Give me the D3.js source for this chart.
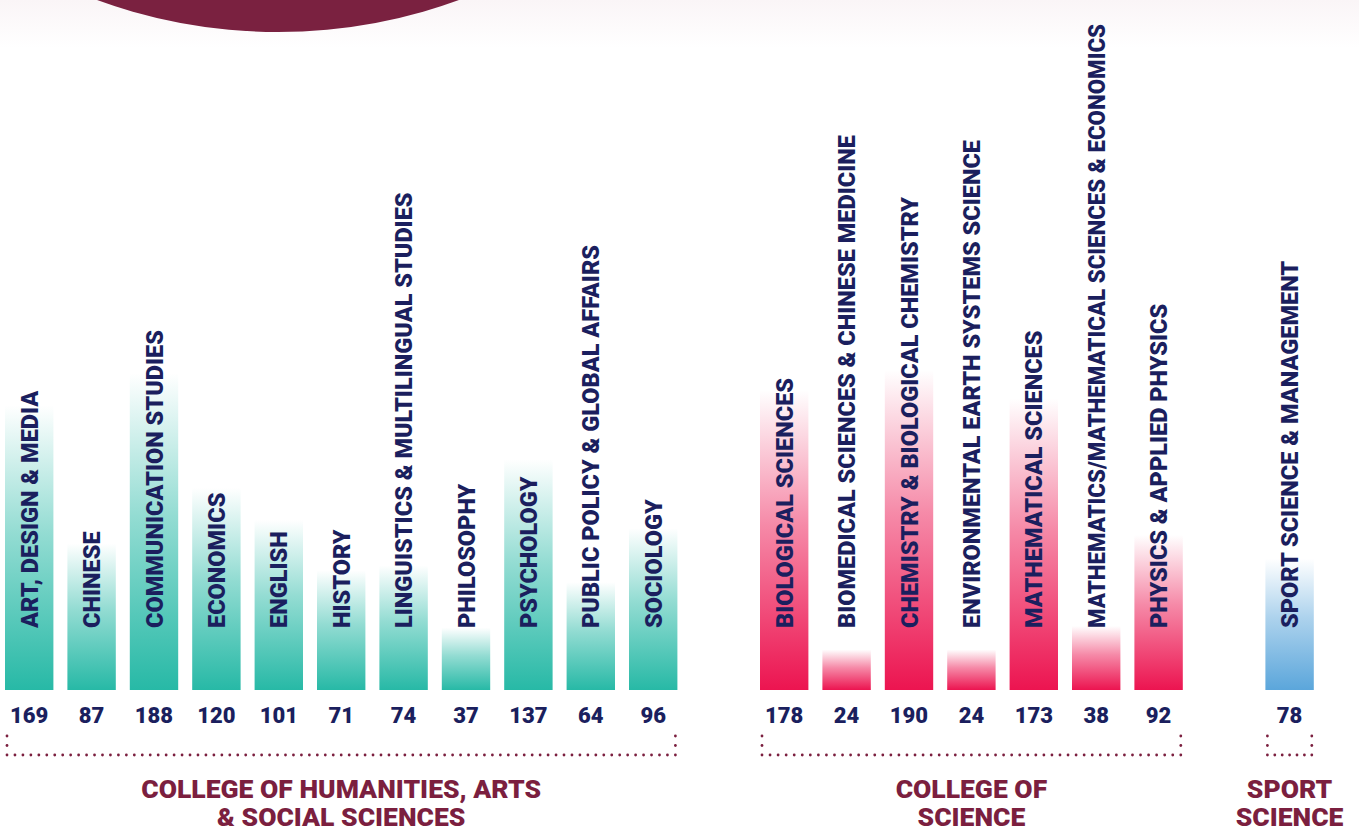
<!DOCTYPE html>
<html>
<head>
<meta charset="utf-8">
<script src="https://cdn.jsdelivr.net/npm/d3@7"></script>
<style>
  html, body { margin: 0; padding: 0; background: #fff; }
  svg { display: block; font-family: Roboto, "Noto Sans", sans-serif; }
</style>
</head>
<body>
<div id="chart"></div>
<script>
// data
const humanities = ["ART, DESIGN & MEDIA", "CHINESE", "COMMUNICATION STUDIES", "ECONOMICS", "ENGLISH", "HISTORY",
  "LINGUISTICS & MULTILINGUAL STUDIES", "PHILOSOPHY", "PSYCHOLOGY", "PUBLIC POLICY & GLOBAL AFFAIRS", "SOCIOLOGY"];
const humanitiesValues = [169, 87, 188, 120, 101, 71, 74, 37, 137, 64, 96];

const science = ["BIOLOGICAL SCIENCES", "BIOMEDICAL SCIENCES & CHINESE MEDICINE", "CHEMISTRY & BIOLOGICAL CHEMISTRY",
  "ENVIRONMENTAL EARTH SYSTEMS SCIENCE", "MATHEMATICAL SCIENCES", "MATHEMATICS/MATHEMATICAL SCIENCES & ECONOMICS",
  "PHYSICS & APPLIED PHYSICS"];
const scienceValues = [178, 24, 190, 24, 173, 38, 92];

const sport = ["SPORT SCIENCE & MANAGEMENT"];
const sportValues = [78];

const collegeNames = [
  ["COLLEGE OF HUMANITIES, ARTS", "& SOCIAL SCIENCES"],
  ["COLLEGE OF", "SCIENCE"],
  ["SPORT", "SCIENCE"]
];
const collegeColors = ["#27b9a6", "#ec1450", "#5ba6db"];

const width = 1359, height = 832;
const navy = "#1b1f5e", maroon = "#7b1f3f";

const groups = [
  {names: humanities, values: humanitiesValues},
  {names: science, values: scienceValues},
  {names: sport, values: sportValues}
];

// flatten with running index + group index
let rows = [], k = 0;
groups.forEach((g, gi) => {
  g.names.forEach((n, i) => rows.push({name: n, value: g.values[i], g: gi, i: k++}));
});

const step = 62.4, barW = 48.4, groupGap = 68.6;
const xi = d3.scaleLinear().domain([0, 1]).range([5, 5 + step]);
const x = d => xi(d.i) + d.g * groupGap;
const y = d3.scaleLinear().domain([0, 190]).range([690, 370]);

const svg = d3.select("#chart").append("svg")
  .attr("width", width)
  .attr("height", height);

const defs = svg.append("defs");

// top pale band
const band = defs.append("linearGradient").attr("id", "band")
  .attr("x1", 0).attr("y1", 0).attr("x2", 0).attr("y2", 1);
band.append("stop").attr("offset", 0).attr("stop-color", "#faf5f7");
band.append("stop").attr("offset", 1).attr("stop-color", "#ffffff");
svg.append("rect").attr("width", width).attr("height", 48).attr("fill", "url(#band)");

// maroon arc peeking in from the top
svg.append("ellipse")
  .attr("cx", 278).attr("cy", -440)
  .attr("rx", 500).attr("ry", 472)
  .attr("fill", "#7a2140");

collegeColors.forEach((c, i) => {
  const gr = defs.append("linearGradient").attr("id", "grad" + i)
    .attr("x1", 0).attr("y1", 1).attr("x2", 0).attr("y2", 0);
  gr.append("stop").attr("offset", 0).attr("stop-color", c);
  gr.append("stop").attr("offset", 0.55).attr("stop-color", c).attr("stop-opacity", 0.5);
  gr.append("stop").attr("offset", 1).attr("stop-color", c).attr("stop-opacity", 0);
});

// bars
svg.append("g").selectAll("rect")
  .data(rows)
  .join("rect")
    .attr("x", d => x(d))
    .attr("y", d => y(d.value))
    .attr("width", barW)
    .attr("height", d => y(0) - y(d.value))
    .attr("fill", d => `url(#grad${d.g})`);

// vertical labels (squeeze the longest one so it stays on the page)
const maxLen = 604;
svg.append("g").selectAll("text")
  .data(rows)
  .join("text")
    .attr("transform", d => `translate(${x(d) + barW / 2 + 8.5},628) rotate(-90)`)
    .attr("fill", navy)
    .attr("font-size", 23.5)
    .attr("font-weight", 900)
    .text(d => d.name)
    .each(function() {
      if (this.getComputedTextLength() > maxLen) {
        d3.select(this).attr("textLength", maxLen).attr("lengthAdjust", "spacingAndGlyphs");
      }
    });

// values under bars
svg.append("g").selectAll("text")
  .data(rows)
  .join("text")
    .attr("x", d => x(d) + barW / 2)
    .attr("y", 723)
    .attr("text-anchor", "middle")
    .attr("fill", navy)
    .attr("font-size", 22)
    .attr("font-weight", 900)
    .text(d => d.value);

// dotted brackets + college names
groups.forEach((g, gi) => {
  const sub = rows.filter(r => r.g === gi);
  const x0 = x(sub[0]) + 2, x1 = x(sub[sub.length - 1]) + barW - 2;
  const yTop = 736, yBot = 755;
  const n = Math.round((x1 - x0) / 8);
  const dots = d3.range(n + 1).map(j => [x0 + j * (x1 - x0) / n, yBot]);
  [yTop, (yTop + yBot) / 2].forEach(yy => { dots.push([x0, yy]); dots.push([x1, yy]); });

  const gg = svg.append("g");
  gg.selectAll("circle")
    .data(dots)
    .join("circle")
      .attr("cx", d => d[0])
      .attr("cy", d => d[1])
      .attr("r", 1.4)
      .attr("fill", maroon);

  gg.selectAll("text")
    .data(collegeNames[gi])
    .join("text")
      .attr("x", (x0 + x1) / 2)
      .attr("y", (d, j) => 798 + j * 27.5)
      .attr("text-anchor", "middle")
      .attr("fill", maroon)
      .attr("font-size", 26.5)
      .attr("font-weight", 900)
      .text(d => d);
});
</script>
</body>
</html>
